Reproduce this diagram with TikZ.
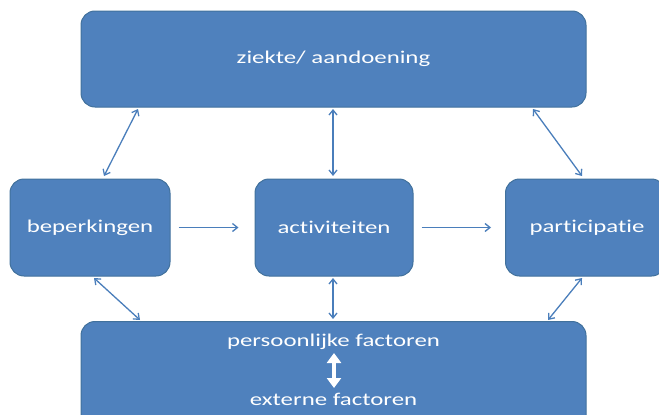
\documentclass[tikz,border=0pt]{standalone}
\usepackage{fontspec}
\setmainfont[Ligatures={NoCommon,NoDiscretionary},FakeStretch=1.38]{Carlito}
\usetikzlibrary{arrows.meta}
\definecolor{boxfill}{HTML}{4F81BD}
\definecolor{boxline}{HTML}{41719C}
\definecolor{arrowcol}{HTML}{4A7EBB}
\begin{document}
\begin{tikzpicture}[x=1pt,y=-1pt,
  blockbox/.style={draw=boxline,line width=1pt,fill=boxfill,rounded corners=14pt,text=white,font=\fontsize{18}{22}\selectfont},
  link/.style={draw=arrowcol,line width=1.3pt,{Straight Barb[length=5pt,width=8pt]}-{Straight Barb[length=5pt,width=8pt]}},
  flow/.style={draw=arrowcol,line width=1.3pt,-{Straight Barb[length=5pt,width=8pt]}},
  lbl/.style={text=white,font=\fontsize{18}{22}\selectfont,inner sep=0pt}]
\useasboundingbox (0,0) rectangle (659,415);
\clip (0,0) rectangle (659,415);
\node[blockbox,minimum width=505pt,minimum height=96pt] (top) at (333.5,59) {ziekte/ aandoening};
\node[blockbox,minimum width=160pt,minimum height=97pt] (bep) at (90,227.5) {beperkingen};
\node[blockbox,minimum width=158pt,minimum height=97pt] (act) at (334,227.5) {activiteiten};
\node[blockbox,minimum width=160pt,minimum height=97pt,anchor=west] (par) at (505,227.5) {};
\node[lbl] at (587,227.5) {participatie};
\node[blockbox,minimum width=505pt,minimum height=120pt,anchor=north] (bot) at (333.5,321) {};
\node[lbl] (pf) at (333.5,342) {persoonlijke factoren};
\node[lbl] (ef) at (333.5,399) {externe factoren};
\coordinate (t1) at (138,109); \coordinate (b1) at (104,176);
\coordinate (t2) at (333,109); \coordinate (b2) at (333,176);
\coordinate (t3) at (533,109); \coordinate (b3) at (582,176);
\draw[link] (t1) -- (b1);
\draw[link] (t2) -- (b2);
\draw[link] (t3) -- (b3);
\draw[flow] (bep.east) ++(8,0) coordinate (f1s) -- ([xshift=-16pt]act.west);
\draw[flow] (act.east) ++(8,0) coordinate (f2s) -- ([xshift=-14pt]par.west);
\coordinate (u1) at (94,278); \coordinate (d1) at (140,320);
\coordinate (u2) at (333,278); \coordinate (d2) at (333,319);
\coordinate (u3) at (582,278); \coordinate (d3) at (548,320);
\draw[link] (u1) -- (d1);
\draw[link] (u2) -- (d2);
\draw[link] (u3) -- (d3);
\coordinate (ia) at (334,353); \coordinate (ib) at (334,388);
\draw[white,line width=3.5pt,{Triangle[length=10pt,width=14pt]}-{Triangle[length=10pt,width=14pt]}] (ia) -- (ib);
\end{tikzpicture}
\end{document}
